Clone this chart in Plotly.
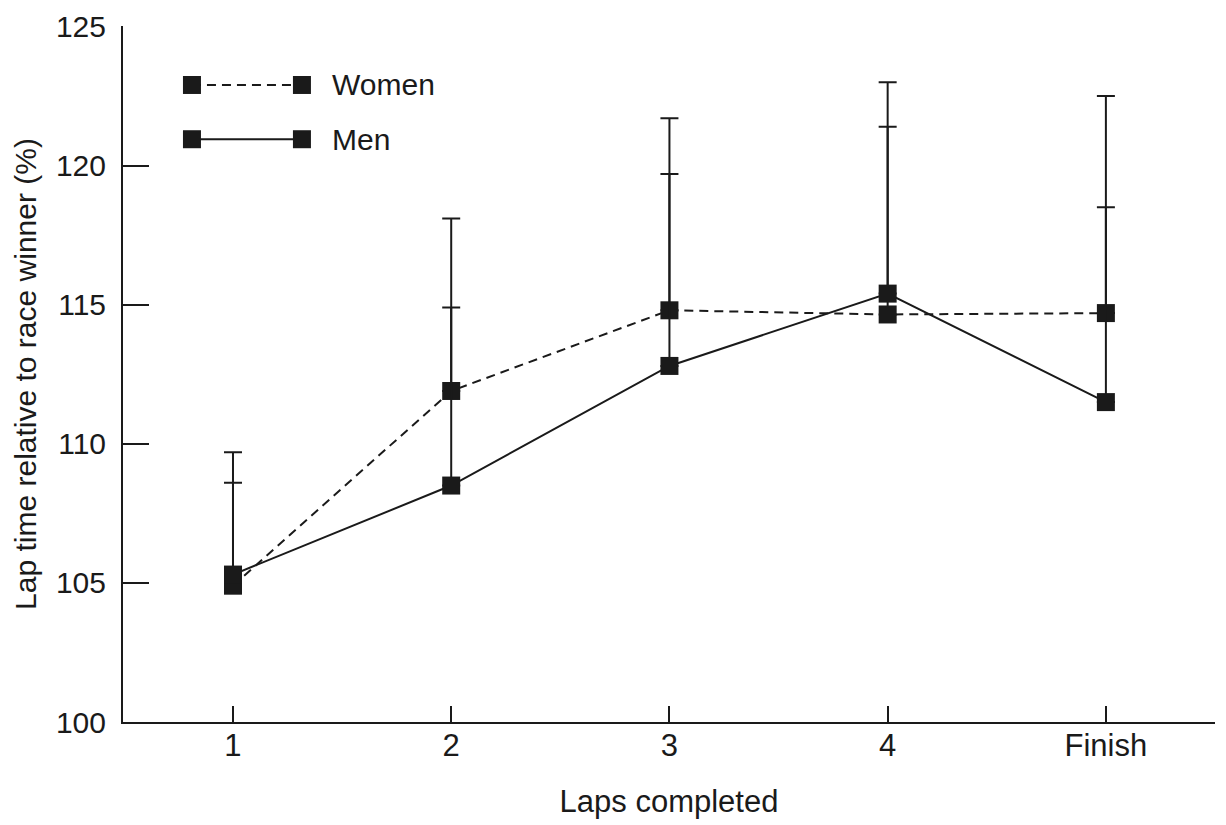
import plotly.graph_objects as go

# Data
laps = [1, 2, 3, 4, 5]
lap_labels = ["1", "2", "3", "4", "Finish"]
women_mean = [104.9, 111.9, 114.8, 114.65, 114.7]
women_upper = [109.7, 118.1, 121.7, 123.0, 122.5]
men_mean = [105.3, 108.5, 112.8, 115.4, 111.5]
men_upper = [108.6, 114.9, 119.7, 121.4, 118.5]
y_ticks = [100, 105, 110, 115, 120, 125]

FONT = "Liberation Sans, Arial, sans-serif"
BLACK = "#1a1a1a"

women_err = [u - m for u, m in zip(women_upper, women_mean)]
men_err = [u - m for u, m in zip(men_upper, men_mean)]

fig = go.Figure()

fig.add_trace(go.Scatter(
    x=laps, y=women_mean, mode="lines+markers", name="Women",
    line=dict(color=BLACK, width=2, dash="9px,6px"),
    marker=dict(symbol="square", size=18, color=BLACK),
    error_y=dict(type="data", symmetric=False, array=women_err,
                 arrayminus=[0] * len(laps), color=BLACK, thickness=2, width=9),
    showlegend=False,
))
fig.add_trace(go.Scatter(
    x=laps, y=men_mean, mode="lines+markers", name="Men",
    line=dict(color=BLACK, width=2),
    marker=dict(symbol="square", size=18, color=BLACK),
    error_y=dict(type="data", symmetric=False, array=men_err,
                 arrayminus=[0] * len(laps), color=BLACK, thickness=2, width=9),
    showlegend=False,
))

# Custom legend (markers at both ends of the line sample)
legend_x = [0.812, 1.316]
legend_items = [("Women", 122.9, "9px,6px"), ("Men", 120.95, "solid")]
for name, ly, dash in legend_items:
    fig.add_trace(go.Scatter(
        x=legend_x, y=[ly, ly], mode="lines+markers",
        line=dict(color=BLACK, width=2, dash=dash),
        marker=dict(symbol="square", size=18, color=BLACK),
        showlegend=False, hoverinfo="skip",
    ))
    fig.add_annotation(x=1.445, y=ly, text=name, showarrow=False,
                       xanchor="left", yanchor="middle",
                       font=dict(family=FONT, size=30, color=BLACK))

fig.update_layout(
    width=1226, height=825,
    margin=dict(l=115, r=19, t=18, b=111),
    paper_bgcolor="white", plot_bgcolor="white",
    font=dict(family=FONT, size=30, color=BLACK),
    showlegend=False,
)
fig.update_xaxes(
    range=[0.496, 5.5], tickmode="array", tickvals=laps, ticktext=lap_labels,
    showline=True, linecolor=BLACK, linewidth=2, showgrid=False, zeroline=False,
    ticks="inside", ticklen=16, tickwidth=2, tickcolor=BLACK,
    tickfont=dict(size=31),
    ticklabelstandoff=-5, automargin=False, ticklabeloverflow="allow",
    title=dict(text="Laps completed", font=dict(size=31), standoff=28),
)
fig.update_yaxes(
    range=[100, 125.02], tickmode="array", tickvals=y_ticks,
    showline=True, linecolor=BLACK, linewidth=2, showgrid=False, zeroline=False,
    ticks="inside", ticklen=26, tickwidth=2, tickcolor=BLACK,
    tickfont=dict(size=30),
    ticklabelstandoff=9, automargin=False, ticklabeloverflow="allow",
    title=dict(text="Lap time relative to race winner (%)", font=dict(size=30), standoff=10),
)

fig.write_html("out.html")
